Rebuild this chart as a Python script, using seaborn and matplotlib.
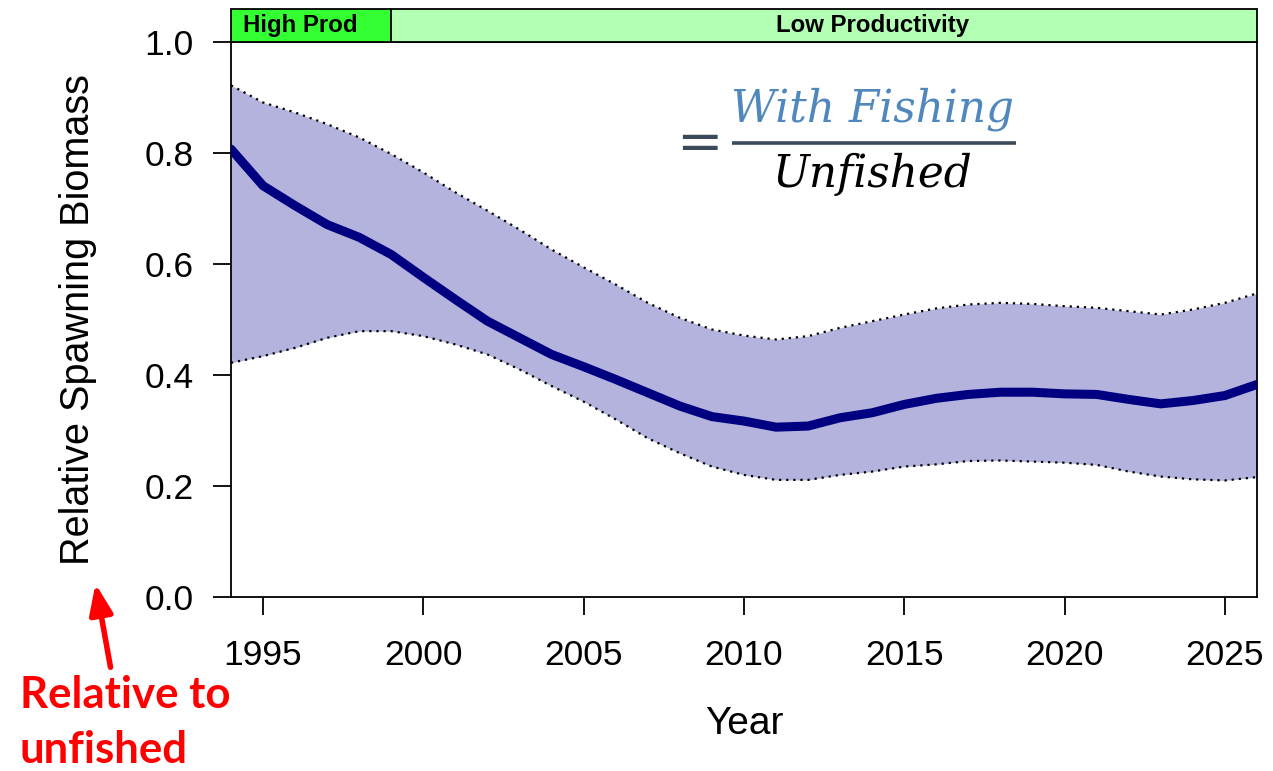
import numpy as np
import pandas as pd
import matplotlib
matplotlib.use("Agg")
import matplotlib.pyplot as plt
import seaborn as sns

years = list(range(1994, 2027))
median = [0.807, 0.741, 0.705, 0.671, 0.648, 0.617, 0.576, 0.536, 0.497, 0.467,
          0.437, 0.415, 0.392, 0.368, 0.344, 0.325, 0.317, 0.306, 0.308, 0.323,
          0.332, 0.347, 0.358, 0.365, 0.369, 0.369, 0.366, 0.365, 0.356, 0.348,
          0.354, 0.363, 0.383]
upper = [0.922, 0.891, 0.873, 0.852, 0.828, 0.798, 0.765, 0.729, 0.696, 0.662,
         0.626, 0.594, 0.563, 0.530, 0.503, 0.482, 0.471, 0.464, 0.470, 0.485,
         0.497, 0.509, 0.520, 0.527, 0.530, 0.528, 0.524, 0.521, 0.515, 0.509,
         0.518, 0.530, 0.547]
lower = [0.422, 0.434, 0.449, 0.467, 0.479, 0.479, 0.470, 0.455, 0.437, 0.410,
         0.380, 0.352, 0.320, 0.286, 0.259, 0.235, 0.220, 0.211, 0.211, 0.220,
         0.226, 0.235, 0.239, 0.245, 0.246, 0.244, 0.242, 0.238, 0.226, 0.217,
         0.212, 0.210, 0.216]
periods = ["High Prod", "Low Productivity"]
period_start = [1994, 1999]
period_end = [1999, 2026]
period_label_x = [1994.38, 2014.0]
period_label_ha = ["left", "center"]
period_colors = ["#33FF33", "#B3FFB3"]
xticks = [1995, 2000, 2005, 2010, 2015, 2020, 2025]
yticks = [0.0, 0.2, 0.4, 0.6, 0.8, 1.0]

df = pd.DataFrame({"Year": years, "median": median, "upper": upper, "lower": lower})

sns.set_theme(style="white")
plt.rcParams["font.family"] = ["Liberation Sans", "DejaVu Sans"]

W, H = 1273, 771
fig = plt.figure(figsize=(12.73, 7.71), dpi=100)
ax = fig.add_axes([231/W, 1 - 597/H, (1257-231)/W, (597-42)/H])

ax.fill_between(df["Year"], df["lower"], df["upper"], color="#B3B3DD", linewidth=0, zorder=1)
sns.lineplot(data=df, x="Year", y="upper", ax=ax, color="black", linestyle=(0, (1, 2.2)), linewidth=1.6, zorder=2)
sns.lineplot(data=df, x="Year", y="lower", ax=ax, color="black", linestyle=(0, (1, 2.2)), linewidth=1.6, zorder=2)
sns.lineplot(data=df, x="Year", y="median", ax=ax, color="#000080", linewidth=6.5, zorder=3)

ax.set_xlim(1994, 2026)
ax.set_ylim(0, 1.0)
ax.set_xticks(xticks)
ax.set_yticks(yticks)
ax.set_yticklabels([f"{v:.1f}" for v in yticks])
ax.tick_params(axis="both", which="major", bottom=True, left=True, length=13, width=1.3,
               color="black", labelsize=25.5, labelcolor="black", direction="out")
ax.tick_params(axis="x", pad=17)
ax.tick_params(axis="y", pad=14)
for s in ax.spines.values():
    s.set_color("black")
    s.set_linewidth(1.3)
ax.set_xlabel("Year", fontsize=28, color="black")
ax.set_ylabel("Relative Spawning Biomass", fontsize=28.5, color="black")
ax.xaxis.set_label_coords(0.5, (597 - 724) / 555)
ax.xaxis.label.set_va("center")
ax.yaxis.set_label_coords((78 - 231) / 1026, 0.5)
ax.yaxis.label.set_va("center")

# productivity band
bax = fig.add_axes([231/W, 1 - 42/H, (1257-231)/W, 33/H])
bax.set_xlim(1994, 2026)
bax.set_ylim(0, 1)
bax.axis("off")
for name, s0, s1, c, lx, lha in zip(periods, period_start, period_end, period_colors,
                                    period_label_x, period_label_ha):
    bax.add_patch(plt.Rectangle((s0, 0), s1 - s0, 1, facecolor=c, edgecolor="black",
                                linewidth=1.3, clip_on=False))
    bax.text(lx, 0.5, name, ha=lha, va="center", fontsize=17.3,
             fontweight="bold", color="black")

# fraction annotation
ax.text(2008.6, 0.814, "=", fontsize=40, color="#3A4A5A", ha="center", va="center",
        family=["DejaVu Sans"])
ax.text(2014.0, 0.8574, "With Fishing", fontsize=31.5, color="#5088BE", ha="center",
        va="baseline", style="italic", family=["DejaVu Serif"])
ax.plot([2009.63, 2018.49], [0.818, 0.818], color="#3A4A5A", linewidth=2.6,
        solid_capstyle="butt")
ax.text(2014.0, 0.7383, "Unfished", fontsize=31.5, color="black", ha="center",
        va="baseline", style="italic", family=["DejaVu Serif"])

# red annotation
fig.text(20/W, 1 - 708/H, "Relative to", fontsize=31.5, color="#FF0000",
         fontweight="bold", ha="left", va="baseline", family=["Lato", "DejaVu Sans"])
fig.text(20/W, 1 - 763/H, "unfished", fontsize=31.5, color="#FF0000",
         fontweight="bold", ha="left", va="baseline", family=["Lato", "DejaVu Sans"])
fig.patches.append(matplotlib.patches.FancyArrowPatch(
    (111/W, 1 - 670/H), (95/W, 1 - 581/H), transform=fig.transFigure,
    arrowstyle="-|>,head_length=18,head_width=7", color="#FF0000", linewidth=4,
    mutation_scale=1))

fig.savefig("out.png", dpi=100, facecolor="white")
